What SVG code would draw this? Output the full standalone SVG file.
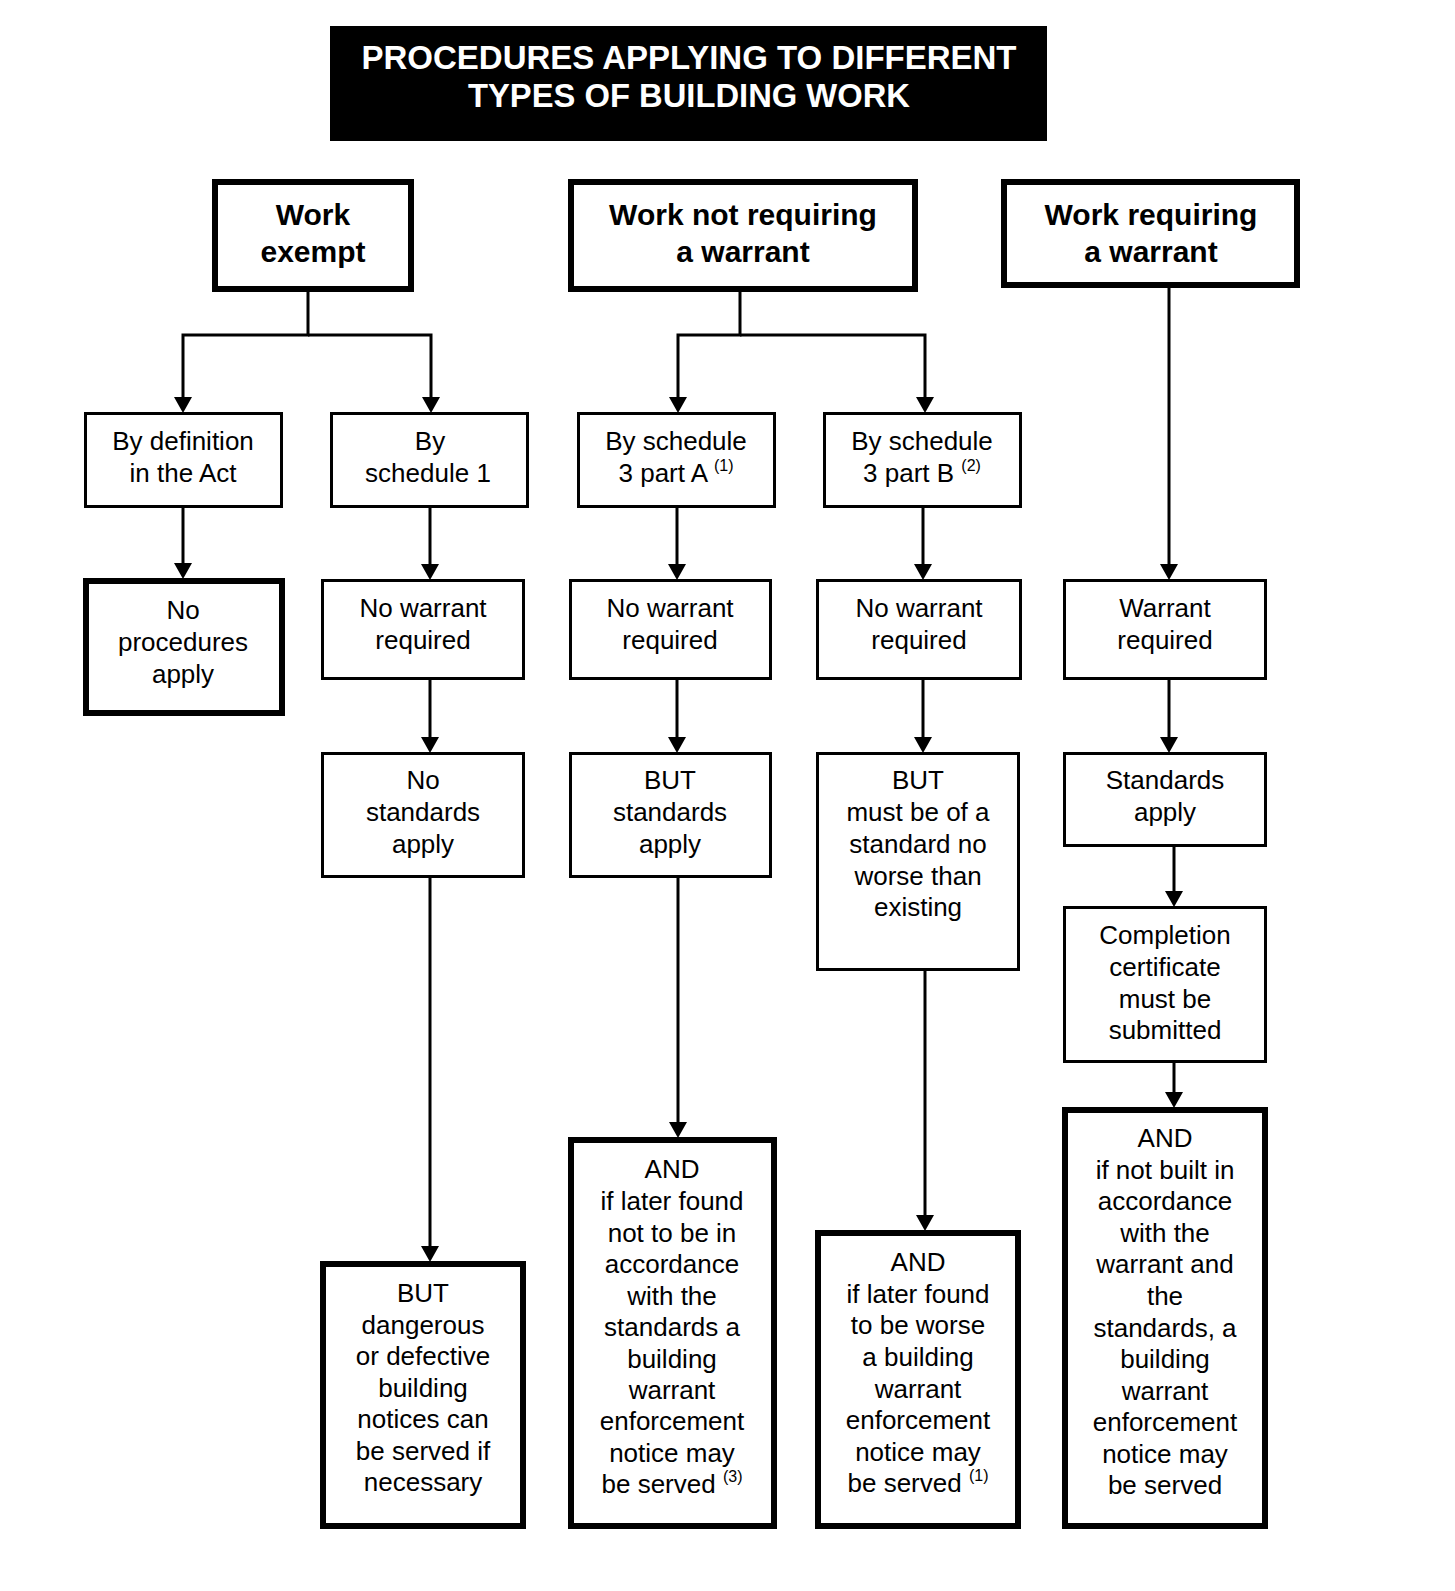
<svg xmlns="http://www.w3.org/2000/svg" width="1455" height="1591" viewBox="0 0 1455 1591">
<style>
.bg{fill:#fff}
.thin{fill:#fff;stroke:#000;stroke-width:3}
.thick{fill:#fff;stroke:#000;stroke-width:6}
.t{font-family:"Liberation Sans",Arial,Helvetica,sans-serif;font-size:26px;text-anchor:middle;fill:#000}
.h{font-family:"Liberation Sans",Arial,Helvetica,sans-serif;font-size:30px;font-weight:bold;text-anchor:middle;fill:#000}
.ti{font-family:"Liberation Sans",Arial,Helvetica,sans-serif;font-size:34px;font-weight:bold;text-anchor:middle;fill:#fff}
.sup{font-size:16px}
.c{fill:none;stroke:#000;stroke-width:3}
</style>
<defs>
<marker id="ah" markerUnits="userSpaceOnUse" markerWidth="18" markerHeight="18" refX="0" refY="9" orient="auto" viewBox="0 0 16 18">
<path d="M0,0 L16,9 L0,18 z" fill="#000"/>
</marker>
</defs>
<rect class="bg" x="0" y="0" width="1455" height="1591"/>

<g id="title">
<rect x="330" y="26" width="717" height="115" fill="#000"/>
<text class="ti" x="689" y="69" textLength="655" lengthAdjust="spacingAndGlyphs">PROCEDURES APPLYING TO DIFFERENT</text>
<text class="ti" x="689" y="107" textLength="442" lengthAdjust="spacingAndGlyphs">TYPES OF BUILDING WORK</text>
</g>

<g id="connectors">
<path class="c" d="M308,292 V335 H183 V397" marker-end="url(#ah)"/>
<path class="c" d="M308,335 H431 V397" marker-end="url(#ah)"/>
<path class="c" d="M740,292 V335 H678 V397" marker-end="url(#ah)"/>
<path class="c" d="M740,335 H925 V397" marker-end="url(#ah)"/>
<path class="c" d="M1169,288 V564" marker-end="url(#ah)"/>
<path class="c" d="M183,507 V563" marker-end="url(#ah)"/>
<path class="c" d="M430,507 V564" marker-end="url(#ah)"/>
<path class="c" d="M430,679 V737" marker-end="url(#ah)"/>
<path class="c" d="M430,877 V1246" marker-end="url(#ah)"/>
<path class="c" d="M677,507 V564" marker-end="url(#ah)"/>
<path class="c" d="M677,679 V737" marker-end="url(#ah)"/>
<path class="c" d="M678,877 V1122" marker-end="url(#ah)"/>
<path class="c" d="M923,507 V564" marker-end="url(#ah)"/>
<path class="c" d="M923,679 V737" marker-end="url(#ah)"/>
<path class="c" d="M925,970 V1215" marker-end="url(#ah)"/>
<path class="c" d="M1169,679 V737" marker-end="url(#ah)"/>
<path class="c" d="M1174,846 V891" marker-end="url(#ah)"/>
<path class="c" d="M1174,1062 V1092" marker-end="url(#ah)"/>
</g>

<g id="work-exempt">
<rect class="thick" x="215" y="182" width="196" height="107"/>
<text class="h" x="313" y="225">Work</text>
<text class="h" x="313" y="262">exempt</text>
</g>
<g id="work-not-requiring">
<rect class="thick" x="571" y="182" width="344" height="107"/>
<text class="h" x="743" y="225">Work not requiring</text>
<text class="h" x="743" y="262">a warrant</text>
</g>
<g id="work-requiring">
<rect class="thick" x="1004" y="182" width="293" height="103"/>
<text class="h" x="1151" y="225">Work requiring</text>
<text class="h" x="1151" y="262">a warrant</text>
</g>

<g id="by-definition">
<rect class="thin" x="85.5" y="413.5" width="196" height="93"/>
<text class="t" x="183" y="450">By definition</text>
<text class="t" x="183" y="482">in the Act</text>
</g>
<g id="by-schedule-1">
<rect class="thin" x="331.5" y="413.5" width="196" height="93"/>
<text class="t" x="430" y="450">By</text>
<text class="t" x="428" y="482">schedule 1</text>
</g>
<g id="by-schedule-3a">
<rect class="thin" x="578.5" y="413.5" width="196" height="93"/>
<text class="t" x="676" y="450">By schedule</text>
<text class="t" x="676" y="482">3 part A <tspan class="sup" dy="-11">(1)</tspan></text>
</g>
<g id="by-schedule-3b">
<rect class="thin" x="824.5" y="413.5" width="196" height="93"/>
<text class="t" x="922" y="450">By schedule</text>
<text class="t" x="922" y="482">3 part B <tspan class="sup" dy="-11">(2)</tspan></text>
</g>

<g id="no-procedures">
<rect class="thick" x="86" y="581" width="196" height="132"/>
<text class="t" x="183" y="619">No</text>
<text class="t" x="183" y="651">procedures</text>
<text class="t" x="183" y="683">apply</text>
</g>
<g id="no-warrant-1">
<rect class="thin" x="322.5" y="580.5" width="201" height="98"/>
<text class="t" x="423" y="617">No warrant</text>
<text class="t" x="423" y="649">required</text>
</g>
<g id="no-warrant-2">
<rect class="thin" x="570.5" y="580.5" width="200" height="98"/>
<text class="t" x="670" y="617">No warrant</text>
<text class="t" x="670" y="649">required</text>
</g>
<g id="no-warrant-3">
<rect class="thin" x="817.5" y="580.5" width="203" height="98"/>
<text class="t" x="919" y="617">No warrant</text>
<text class="t" x="919" y="649">required</text>
</g>
<g id="warrant-required">
<rect class="thin" x="1064.5" y="580.5" width="201" height="98"/>
<text class="t" x="1165" y="617">Warrant</text>
<text class="t" x="1165" y="649">required</text>
</g>

<g id="no-standards">
<rect class="thin" x="322.5" y="753.5" width="201" height="123"/>
<text class="t" x="423" y="789">No</text>
<text class="t" x="423" y="821">standards</text>
<text class="t" x="423" y="853">apply</text>
</g>
<g id="but-standards">
<rect class="thin" x="570.5" y="753.5" width="200" height="123"/>
<text class="t" x="670" y="789">BUT</text>
<text class="t" x="670" y="821">standards</text>
<text class="t" x="670" y="853">apply</text>
</g>
<g id="but-must-be">
<rect class="thin" x="817.5" y="753.5" width="201" height="216"/>
<text class="t" x="918" y="789">BUT</text>
<text class="t" x="918" y="821">must be of a</text>
<text class="t" x="918" y="853">standard no</text>
<text class="t" x="918" y="885">worse than</text>
<text class="t" x="918" y="916">existing</text>
</g>
<g id="standards-apply">
<rect class="thin" x="1064.5" y="753.5" width="201" height="92"/>
<text class="t" x="1165" y="789">Standards</text>
<text class="t" x="1165" y="821">apply</text>
</g>
<g id="completion">
<rect class="thin" x="1064.5" y="907.5" width="201" height="154"/>
<text class="t" x="1165" y="944">Completion</text>
<text class="t" x="1165" y="976">certificate</text>
<text class="t" x="1165" y="1008">must be</text>
<text class="t" x="1165" y="1039">submitted</text>
</g>

<g id="dangerous-notices">
<rect class="thick" x="323" y="1264" width="200" height="262"/>
<text class="t" x="423" y="1302">BUT</text>
<text class="t" x="423" y="1334">dangerous</text>
<text class="t" x="423" y="1365">or defective</text>
<text class="t" x="423" y="1397">building</text>
<text class="t" x="423" y="1428">notices can</text>
<text class="t" x="423" y="1460">be served if</text>
<text class="t" x="423" y="1491">necessary</text>
</g>
<g id="and-not-accordance">
<rect class="thick" x="571" y="1140" width="203" height="386"/>
<text class="t" x="672" y="1178">AND</text>
<text class="t" x="672" y="1210">if later found</text>
<text class="t" x="672" y="1242">not to be in</text>
<text class="t" x="672" y="1273">accordance</text>
<text class="t" x="672" y="1305">with the</text>
<text class="t" x="672" y="1336">standards a</text>
<text class="t" x="672" y="1368">building</text>
<text class="t" x="672" y="1399">warrant</text>
<text class="t" x="672" y="1430">enforcement</text>
<text class="t" x="672" y="1462">notice may</text>
<text class="t" x="672" y="1493">be served <tspan class="sup" dy="-11">(3)</tspan></text>
</g>
<g id="and-worse">
<rect class="thick" x="818" y="1233" width="200" height="293"/>
<text class="t" x="918" y="1271">AND</text>
<text class="t" x="918" y="1303">if later found</text>
<text class="t" x="918" y="1334">to be worse</text>
<text class="t" x="918" y="1366">a building</text>
<text class="t" x="918" y="1398">warrant</text>
<text class="t" x="918" y="1429">enforcement</text>
<text class="t" x="918" y="1461">notice may</text>
<text class="t" x="918" y="1492">be served <tspan class="sup" dy="-11">(1)</tspan></text>
</g>
<g id="and-not-built">
<rect class="thick" x="1065" y="1110" width="200" height="416"/>
<text class="t" x="1165" y="1147">AND</text>
<text class="t" x="1165" y="1179">if not built in</text>
<text class="t" x="1165" y="1210">accordance</text>
<text class="t" x="1165" y="1242">with the</text>
<text class="t" x="1165" y="1273">warrant and</text>
<text class="t" x="1165" y="1305">the</text>
<text class="t" x="1165" y="1337">standards, a</text>
<text class="t" x="1165" y="1368">building</text>
<text class="t" x="1165" y="1400">warrant</text>
<text class="t" x="1165" y="1431">enforcement</text>
<text class="t" x="1165" y="1463">notice may</text>
<text class="t" x="1165" y="1494">be served</text>
</g>
</svg>
